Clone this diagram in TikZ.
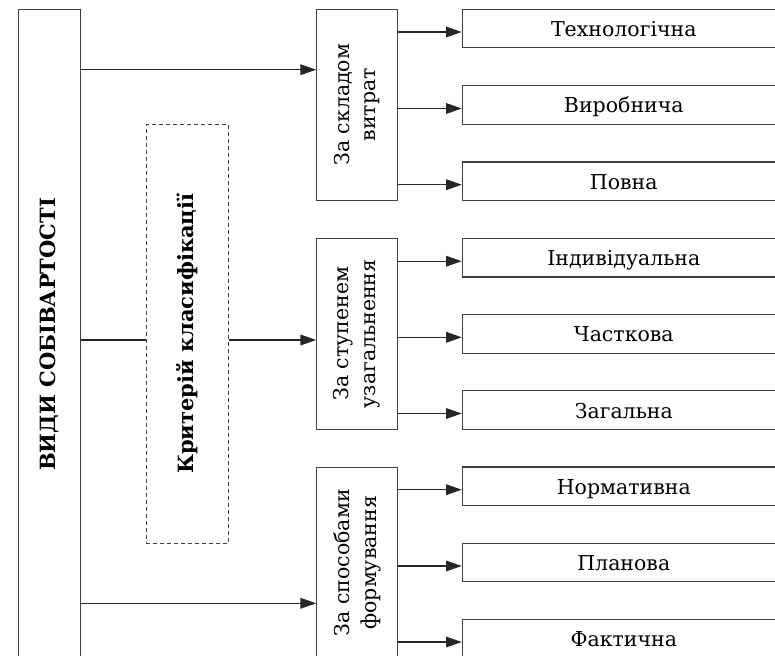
\documentclass[tikz,border=0pt]{standalone}
\usepackage{fontspec}
\setmainfont{DejaVu Serif}
\usetikzlibrary{arrows.meta}

\tikzset{
  box/.style={draw=black!75, line width=1.1pt, inner sep=0pt},
  mainbox/.style={box, minimum width=62pt, minimum height=660pt},
  critbox/.style={box, dashed, dash pattern=on 4pt off 3pt, minimum width=82.3pt, minimum height=419pt},
  groupbox/.style={box, minimum width=80.6pt, minimum height=190.7pt},
  leafbox/.style={box, minimum width=323pt, minimum height=38.5pt, text height=16pt, text depth=0pt,
    font=\fontsize{20.5}{24}\selectfont},
  grouptext/.style={rotate=90, align=center, font=\fontsize{20.5}{26.7}\selectfont},
  boldtext/.style={rotate=90, font=\bfseries\fontsize{21}{24}\selectfont},
  arr/.style={-{Triangle[length=15.7pt, width=10.7pt]}, draw=black!85, line width=1.1pt},
  link/.style={draw=black!85, line width=1.1pt},
}

\begin{document}
\begin{tikzpicture}[x=1pt, y=-1pt]
    \useasboundingbox (0,0) rectangle (775,655);

    % Main box and criterion box
    \node[mainbox] (vydy) at (49.7,339.7) {};
    \node[boldtext] (vydytext) at (49.7,334.5) {ВИДИ СОБІВАРТОСТІ};
    \node[critbox] (kryt) at (187.2,333.8) {};
    \node[boldtext] (kryttext) at (kryt) {Критерій класифікації};

    % Groups of criteria
    \node[groupbox] (g1) at (357,104.7) {};
    \node[grouptext] (g1text) at (g1) {За складом\\витрат};
    \node[groupbox] (g2) at (357,333.8) {};
    \node[grouptext] (g2text) at (g2) {За ступенем\\узагальнення};
    \node[groupbox] (g3) at (357,562.7) {};
    \node[grouptext] (g3text) at (g3) {За способами\\формування};

    % Kinds of cost
    \node[leafbox] (t1) at (623.8,28.5) {Технологічна};
    \node[leafbox] (t2) at (623.8,105) {Виробнича};
    \node[leafbox] (t3) at (623.8,181.2) {Повна};
    \node[leafbox] (t4) at (623.8,257.7) {Індивідуальна};
    \node[leafbox] (t5) at (623.8,333.8) {Часткова};
    \node[leafbox] (t6) at (623.8,410) {Загальна};
    \node[leafbox] (t7) at (623.8,486.2) {Нормативна};
    \node[leafbox] (t8) at (623.8,562.5) {Планова};
    \node[leafbox] (t9) at (623.8,638.5) {Фактична};

    % Arrows from the main box
    \coordinate (y1) at (0,69.7);
    \coordinate (y2) at (0,340);
    \coordinate (y3) at (0,603.3);
    \draw[arr] (vydy.east |- y1) -- (g1.west |- y1);
    \draw[link] (vydy.east |- y2) -- (kryt.west |- y2);
    \draw[arr] (kryt.east |- y2) -- (g2.west |- y2);
    \draw[arr] (vydy.east |- y3) -- (g3.west |- y3);

    % Arrows from the groups (a little below the box middle)
    \draw[arr] ([yshift=-3.5pt]t1.west -| g1.east) -- ([yshift=-3.5pt]t1.west);
    \draw[arr] ([yshift=-3.5pt]t2.west -| g1.east) -- ([yshift=-3.5pt]t2.west);
    \draw[arr] ([yshift=-3.5pt]t3.west -| g1.east) -- ([yshift=-3.5pt]t3.west);
    \draw[arr] ([yshift=-3.5pt]t4.west -| g2.east) -- ([yshift=-3.5pt]t4.west);
    \draw[arr] ([yshift=-3.5pt]t5.west -| g2.east) -- ([yshift=-3.5pt]t5.west);
    \draw[arr] ([yshift=-3.5pt]t6.west -| g2.east) -- ([yshift=-3.5pt]t6.west);
    \draw[arr] ([yshift=-3.5pt]t7.west -| g3.east) -- ([yshift=-3.5pt]t7.west);
    \draw[arr] ([yshift=-3.5pt]t8.west -| g3.east) -- ([yshift=-3.5pt]t8.west);
    \draw[arr] ([yshift=-3.5pt]t9.west -| g3.east) -- ([yshift=-3.5pt]t9.west);
\end{tikzpicture}
\end{document}
